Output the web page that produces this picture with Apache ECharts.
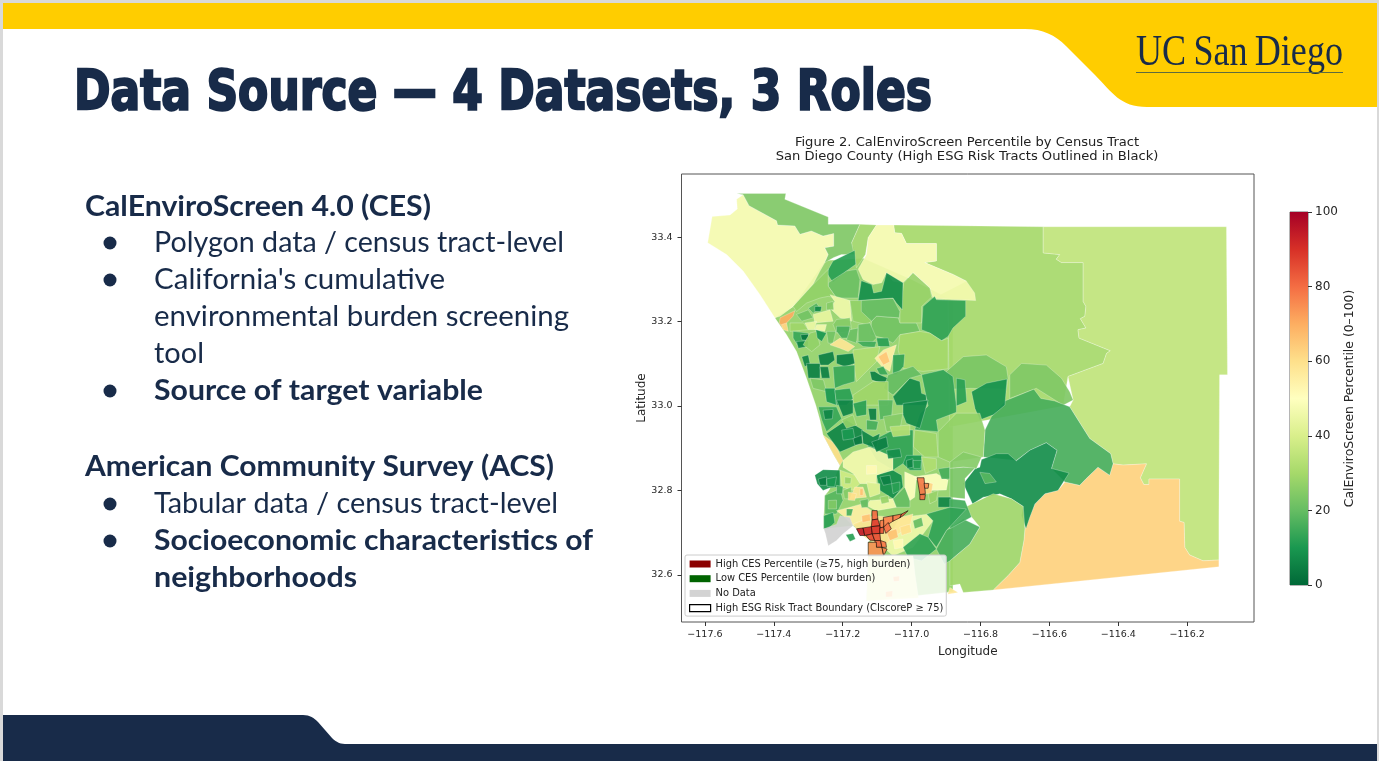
<!DOCTYPE html>
<html>
<head>
<meta charset="utf-8">
<title>Data Source</title>
<script src="https://cdn.jsdelivr.net/npm/echarts@6/dist/echarts.min.js"></script>
<style>
html,body{margin:0;padding:0;background:#d9d9d9;overflow:hidden}
#main{width:1379px;height:761px;filter:blur(0.4px)}
</style>
</head>
<body>
<div id="main"></div>
<script>
var lonTicks = [-117.6,-117.4,-117.2,-117.0,-116.8,-116.6,-116.4,-116.2];
var latTicks = [32.6,32.8,33.0,33.2,33.4];
var cmapStops = ['#006837','#1a9850','#66bd63','#a6d96a','#d9ef8b','#ffffbf','#fee08b','#fdae61','#f46d43','#d73027','#a50026'];
var legendNames = ['High CES Percentile (≥75, high burden)','Low CES Percentile (low burden)','No Data','High ESG Risk Tract Boundary (CIscoreP ≥ 75)'];
var legendColors = ['#8b0000','#006400','#d3d3d3','#ffffff'];

// rings are flat lon,lat lists, one ring per line, painted in order
var largeRings = [
 [-117.397,33.209,-117.363,33.169,-117.334,33.129,-117.305,33.066,-117.278,33.002,-117.266,32.967,-117.257,32.931,-117.228,32.887,-117.208,32.859,-117.240,32.800,-117.252,32.788,-117.255,32.740,-117.255,32.709,-117.170,32.716,-117.160,32.709,-117.150,32.697,-117.121,32.682,-117.126,32.677,-117.126,32.645,-117.131,32.538,-116.880,32.560,-116.880,33.250,-117.000,33.300,-117.140,33.350,-117.250,33.345,-117.344,33.236],
 [-117.052,33.429,-116.618,33.425,-116.618,33.363,-116.570,33.359,-116.580,33.348,-116.565,33.340,-116.502,33.340,-116.502,33.248,-116.494,33.236,-116.497,33.213,-116.510,33.207,-116.494,33.185,-116.517,33.181,-116.514,33.161,-116.423,33.131,-116.434,33.125,-116.444,33.101,-116.546,33.070,-116.560,33.000,-116.890,32.950,-116.894,33.250,-116.938,33.255,-116.841,33.296,-116.880,33.312,-116.962,33.340,-116.928,33.344,-116.928,33.385,-117.015,33.385,-117.029,33.409,-117.049,33.411],
 [-116.618,33.425,-116.086,33.425,-116.083,33.074,-116.106,33.074,-116.108,32.728,-116.108,32.635,-116.154,32.633,-116.193,32.647,-116.207,32.665,-116.209,32.724,-116.222,32.727,-116.222,32.827,-116.311,32.827,-116.311,32.814,-116.326,32.814,-116.336,32.830,-116.318,32.863,-116.386,32.860,-116.415,32.863,-116.422,32.887,-116.483,32.923,-116.517,32.967,-116.541,32.998,-116.531,33.014,-116.546,33.070,-116.444,33.101,-116.434,33.125,-116.423,33.131,-116.514,33.161,-116.517,33.181,-116.494,33.185,-116.510,33.207,-116.497,33.213,-116.494,33.236,-116.502,33.248,-116.502,33.340,-116.565,33.340,-116.580,33.348,-116.570,33.359,-116.618,33.363],
 [-116.763,32.564,-116.108,32.619,-116.108,32.635,-116.154,32.633,-116.193,32.647,-116.207,32.665,-116.209,32.724,-116.222,32.727,-116.222,32.827,-116.311,32.827,-116.311,32.814,-116.326,32.814,-116.336,32.830,-116.318,32.863,-116.386,32.860,-116.415,32.863,-116.425,32.836,-116.459,32.855,-116.493,32.828,-116.512,32.812,-116.555,32.820,-116.575,32.800,-116.613,32.792,-116.642,32.768,-116.671,32.709,-116.674,32.681,-116.686,32.629,-116.720,32.598],
 [-117.592,33.387,-117.579,33.449,-117.527,33.453,-117.506,33.467,-117.508,33.490,-117.489,33.501,-117.472,33.475,-117.392,33.439,-117.389,33.429,-117.339,33.427,-117.324,33.407,-117.291,33.415,-117.257,33.403,-117.226,33.409,-117.226,33.379,-117.252,33.375,-117.242,33.359,-117.252,33.340,-117.266,33.320,-117.286,33.288,-117.344,33.236,-117.382,33.213,-117.397,33.209,-117.440,33.264,-117.489,33.320,-117.537,33.359],
 [-117.508,33.504,-117.365,33.504,-117.368,33.490,-117.242,33.448,-117.242,33.431,-117.150,33.431,-117.174,33.387,-117.160,33.359,-117.204,33.359,-117.226,33.352,-117.252,33.340,-117.242,33.359,-117.252,33.375,-117.226,33.379,-117.226,33.409,-117.257,33.403,-117.291,33.415,-117.324,33.407,-117.339,33.427,-117.389,33.429,-117.392,33.439,-117.472,33.475,-117.489,33.501],
 [-117.150,33.431,-117.102,33.429,-117.126,33.399,-117.134,33.359,-117.160,33.328,-117.174,33.387],
 [-117.102,33.429,-117.052,33.429,-117.049,33.411,-117.029,33.409,-117.015,33.385,-116.928,33.385,-116.928,33.344,-116.962,33.340,-116.880,33.312,-116.841,33.296,-116.817,33.268,-116.814,33.250,-116.938,33.255,-116.947,33.280,-116.996,33.316,-117.025,33.292,-117.054,33.296,-117.073,33.316,-117.087,33.292,-117.112,33.288,-117.141,33.300,-117.155,33.324,-117.131,33.359,-117.126,33.399],
 [-116.715,33.074,-116.681,33.101,-116.609,33.097,-116.565,33.066,-116.541,33.034,-116.531,33.014,-116.560,33.002,-116.638,33.042,-116.715,33.018],
 [-116.899,33.082,-116.850,33.117,-116.783,33.121,-116.725,33.093,-116.720,33.066,-116.725,33.040,-116.831,33.042,-116.880,33.040],
 [-116.787,32.943,-116.768,32.975,-116.729,33.012,-116.645,33.040,-116.625,33.018,-116.585,33.012,-116.541,32.998,-116.517,32.967,-116.483,32.923,-116.422,32.887,-116.415,32.863,-116.425,32.836,-116.459,32.855,-116.493,32.828,-116.512,32.812,-116.555,32.820,-116.594,32.852,-116.578,32.895,-116.609,32.913,-116.657,32.895,-116.696,32.871,-116.792,32.879],
 [-116.609,32.913,-116.578,32.895,-116.594,32.852,-116.543,32.841,-116.575,32.800,-116.613,32.792,-116.642,32.768,-116.657,32.736,-116.668,32.709,-116.681,32.740,-116.676,32.762,-116.710,32.780,-116.744,32.792,-116.763,32.788,-116.792,32.784,-116.823,32.768,-116.850,32.816,-116.816,32.851,-116.802,32.855,-116.797,32.873,-116.754,32.887,-116.720,32.887,-116.696,32.870,-116.657,32.895],
 [-116.845,32.760,-116.763,32.792,-116.710,32.780,-116.676,32.762,-116.671,32.709,-116.674,32.681,-116.686,32.629,-116.720,32.598,-116.763,32.564,-116.850,32.558,-116.860,32.578,-116.889,32.574,-116.889,32.633,-116.831,32.673,-116.802,32.713,-116.826,32.737],
 [-116.928,32.661,-116.899,32.705,-116.850,32.732,-116.802,32.713,-116.831,32.673,-116.889,32.633,-116.905,32.625],
 [-117.165,33.369,-117.162,33.336,-117.189,33.320,-117.228,33.292,-117.247,33.316,-117.228,33.344],
 [-117.242,33.292,-117.189,33.320,-117.160,33.324,-117.150,33.300,-117.155,33.256,-117.218,33.256,-117.242,33.284]
];
var largeValues = [27,30,35,63,47,24,29,47,24,23,16,8,29,16,12,21];

var northRings = [
 [-117.344,33.236,-117.286,33.288,-117.242,33.324,-117.242,33.284,-117.218,33.256,-117.242,33.260,-117.266,33.256,-117.305,33.244,-117.334,33.224],
 [-117.237,33.264,-117.179,33.250,-117.174,33.201,-117.208,33.209,-117.237,33.232,-117.223,33.248],
 [-117.179,33.250,-117.146,33.250,-117.116,33.201,-117.131,33.193,-117.170,33.201],
 [-117.116,33.201,-117.102,33.213,-117.039,33.209,-117.034,33.197,-116.986,33.197,-116.976,33.177,-117.034,33.169,-117.054,33.149,-117.082,33.161,-117.121,33.169],
 [-117.034,33.224,-117.023,33.292,-116.996,33.316,-116.947,33.280,-116.942,33.258,-116.971,33.236,-116.971,33.197,-117.034,33.197],
 [-117.146,33.297,-117.116,33.288,-117.110,33.268,-117.087,33.272,-117.073,33.316,-117.025,33.292,-117.027,33.228,-117.044,33.244,-117.054,33.256,-117.155,33.250],
 [-117.146,33.250,-117.054,33.255,-117.034,33.224,-117.036,33.209,-117.102,33.213,-117.116,33.201,-117.146,33.224],
 [-116.967,33.236,-116.933,33.260,-116.928,33.252,-116.843,33.250,-116.843,33.213,-116.880,33.185,-116.894,33.165,-116.913,33.155,-116.947,33.173,-116.971,33.181],
 [-117.034,33.169,-116.976,33.177,-116.947,33.173,-116.913,33.155,-116.894,33.161,-116.894,33.088,-116.967,33.082,-117.025,33.089,-117.039,33.133],
 [-117.382,33.209,-117.339,33.226,-117.344,33.213,-117.363,33.197,-117.373,33.183,-117.384,33.197],
 [-117.378,33.193,-117.363,33.197,-117.358,33.177,-117.373,33.181],
 [-117.334,33.217,-117.300,33.228,-117.286,33.209,-117.319,33.201],
 [-117.300,33.232,-117.276,33.244,-117.266,33.232,-117.286,33.220],
 [-117.281,33.236,-117.261,33.236,-117.264,33.224,-117.281,33.224],
 [-117.247,33.244,-117.228,33.248,-117.226,33.228,-117.247,33.228],
 [-117.286,33.217,-117.237,33.228,-117.228,33.201,-117.281,33.197],
 [-117.353,33.197,-117.314,33.197,-117.300,33.181,-117.353,33.177],
 [-117.310,33.197,-117.276,33.201,-117.281,33.181,-117.300,33.181],
 [-117.276,33.193,-117.247,33.193,-117.252,33.177,-117.281,33.181],
 [-117.344,33.177,-117.300,33.173,-117.300,33.145,-117.329,33.141,-117.344,33.161],
 [-117.322,33.169,-117.299,33.170,-117.299,33.155,-117.319,33.157],
 [-117.334,33.153,-117.300,33.155,-117.300,33.141,-117.329,33.137],
 [-117.295,33.173,-117.276,33.177,-117.266,33.145,-117.290,33.129,-117.315,33.145],
 [-117.278,33.181,-117.247,33.173,-117.261,33.153,-117.274,33.161],
 [-117.247,33.177,-117.220,33.177,-117.228,33.149,-117.242,33.149],
 [-117.218,33.205,-117.179,33.209,-117.174,33.177,-117.218,33.173,-117.228,33.193],
 [-117.218,33.189,-117.179,33.189,-117.184,33.161,-117.203,33.161,-117.218,33.177],
 [-117.179,33.181,-117.155,33.185,-117.160,33.149,-117.189,33.157],
 [-117.155,33.193,-117.121,33.197,-117.102,33.161,-117.121,33.145,-117.155,33.153],
 [-117.237,33.145,-117.208,33.161,-117.189,33.153,-117.165,33.141,-117.184,33.129,-117.208,33.137],
 [-117.102,33.161,-117.068,33.161,-117.063,33.141,-117.097,33.141],
 [-117.160,33.153,-117.102,33.153,-117.107,33.139,-117.141,33.141],
 [-117.170,33.133,-117.092,33.141,-117.102,33.105,-117.131,33.082,-117.160,33.058,-117.170,33.105],
 [-117.107,33.113,-117.082,33.133,-117.044,33.145,-117.054,33.117,-117.063,33.082,-117.087,33.094],
 [-117.097,33.117,-117.073,33.129,-117.063,33.105,-117.082,33.097],
 [-117.054,33.121,-117.020,33.123,-117.023,33.094,-117.044,33.074,-117.055,33.074],
 [-117.102,33.089,-117.082,33.094,-117.068,33.074,-117.092,33.074],
 [-117.121,33.082,-117.107,33.082,-117.092,33.074,-117.068,33.066,-117.078,33.054,-117.102,33.058,-117.116,33.062],
 [-117.068,33.074,-116.996,33.094,-116.971,33.074,-117.005,33.066,-117.054,33.026,-117.082,33.042]
];
var northValues = [27,46,27,22,28,8,20,13,30,70,62,22,18,7,25,44,29,45,47,14,3,6,27,10,22,25,16,21,21,58,12,15,32,55,65,13,14,5,20];

var midRings = [
 [-117.271,33.121,-117.228,33.129,-117.223,33.109,-117.242,33.097,-117.266,33.097],
 [-117.218,33.121,-117.170,33.125,-117.165,33.101,-117.194,33.093,-117.218,33.101],
 [-117.319,33.117,-117.300,33.121,-117.295,33.101,-117.310,33.093],
 [-117.305,33.101,-117.266,33.101,-117.266,33.066,-117.300,33.066],
 [-117.266,33.093,-117.242,33.093,-117.237,33.066,-117.261,33.066],
 [-117.228,33.093,-117.165,33.097,-117.165,33.058,-117.199,33.050,-117.223,33.042],
 [-117.295,33.066,-117.256,33.062,-117.247,33.034,-117.286,33.042],
 [-117.252,33.042,-117.223,33.042,-117.218,33.002,-117.247,33.010],
 [-117.223,33.038,-117.179,33.042,-117.170,33.018,-117.189,33.002,-117.218,33.002],
 [-117.170,33.026,-117.112,33.058,-117.068,33.058,-117.068,33.002,-117.170,33.002],
 [-117.054,33.022,-117.005,33.066,-116.976,33.058,-116.971,33.030,-116.957,33.026,-116.957,33.002,-117.044,33.002],
 [-116.971,33.074,-116.908,33.086,-116.880,33.070,-116.870,33.002,-116.870,32.985,-116.928,32.967,-116.923,32.939,-116.991,32.944,-116.976,32.982,-116.952,33.000],
 [-117.025,33.006,-116.952,33.014,-116.976,32.947,-117.015,32.959,-117.025,32.979],
 [-116.826,33.034,-116.783,33.054,-116.723,33.064,-116.729,33.002,-116.763,32.979,-116.802,32.967,-116.816,32.994],
 [-116.870,33.066,-116.845,33.062,-116.840,33.010,-116.870,33.000],
 [-116.923,32.939,-116.870,32.983,-116.802,32.983,-116.787,32.943,-116.792,32.879,-116.889,32.867,-116.923,32.879],
 [-116.991,32.943,-116.928,32.935,-116.923,32.879,-116.962,32.879,-116.995,32.903],
 [-117.131,32.911,-117.054,32.943,-116.996,32.943,-116.996,32.879,-117.054,32.848,-117.102,32.871],
 [-117.102,32.836,-117.063,32.852,-117.029,32.836,-117.025,32.808,-117.054,32.780,-117.092,32.800],
 [-117.199,32.871,-117.170,32.891,-117.121,32.903,-117.054,32.879,-117.054,32.848,-117.102,32.836,-117.102,32.816,-117.150,32.816,-117.170,32.840,-117.199,32.855],
 [-117.257,32.931,-117.223,32.911,-117.199,32.871,-117.208,32.859,-117.228,32.887],
 [-117.281,32.836,-117.257,32.849,-117.208,32.848,-117.208,32.808,-117.237,32.806,-117.257,32.800,-117.274,32.816],
 [-117.271,32.998,-117.218,32.998,-117.203,32.970,-117.247,32.939,-117.261,32.967],
 [-117.247,32.935,-117.189,32.967,-117.141,32.943,-117.150,32.911,-117.208,32.891],
 [-117.218,33.014,-117.170,33.014,-117.170,32.983,-117.199,32.975],
 [-117.170,33.006,-117.131,33.014,-117.131,32.979,-117.160,32.975],
 [-117.126,32.994,-117.102,32.994,-117.102,32.967,-117.121,32.967],
 [-117.097,33.014,-117.054,33.014,-117.058,32.975,-117.092,32.967],
 [-117.082,32.975,-117.025,32.983,-117.034,32.943,-117.073,32.939],
 [-117.063,32.951,-117.005,32.955,-117.005,32.931,-117.054,32.927],
 [-117.145,32.943,-117.112,32.927,-117.092,32.935,-117.102,32.899,-117.141,32.911],
 [-117.116,32.915,-117.073,32.927,-117.068,32.903,-117.102,32.891],
 [-117.203,32.967,-117.170,32.979,-117.160,32.955,-117.189,32.947],
 [-117.015,32.883,-116.971,32.883,-116.971,32.848,-117.005,32.848,-117.025,32.863],
 [-116.971,32.879,-116.928,32.875,-116.928,32.851,-116.960,32.840],
 [-116.996,32.832,-116.928,32.840,-116.894,32.824,-116.899,32.801,-116.947,32.800],
 [-116.957,32.820,-116.938,32.816,-116.943,32.792,-116.962,32.792],
 [-116.952,32.792,-116.923,32.800,-116.928,32.776,-116.947,32.768],
 [-116.923,32.784,-116.884,32.784,-116.884,32.760,-116.923,32.760],
 [-116.923,32.851,-116.889,32.855,-116.889,32.827,-116.913,32.827],
 [-116.889,32.867,-116.850,32.891,-116.797,32.879,-116.812,32.851,-116.850,32.855,-116.889,32.852],
 [-116.889,32.852,-116.850,32.855,-116.816,32.853,-116.845,32.828,-116.845,32.780,-116.889,32.784],
 [-116.802,32.843,-116.773,32.840,-116.754,32.820,-116.787,32.816],
 [-116.889,32.780,-116.845,32.776,-116.826,32.737,-116.889,32.709]
];
var midValues = [5,5,6,5,5,14,24,10,12,29,7,13,7,9,12,27,29,13,8,47,60,8,14,6,6,12,5,18,25,33,6,5,27,10,32,50,62,28,6,16,25,23,18,15];

var southRings = [
 [-117.252,32.788,-117.208,32.804,-117.199,32.776,-117.218,32.744,-117.252,32.744],
 [-117.208,32.848,-117.165,32.836,-117.150,32.816,-117.170,32.800,-117.203,32.808],
 [-117.199,32.800,-117.175,32.808,-117.175,32.780,-117.195,32.780],
 [-117.165,32.808,-117.141,32.808,-117.131,32.784,-117.179,32.780],
 [-117.150,32.804,-117.141,32.804,-117.141,32.788,-117.150,32.788],
 [-117.131,32.820,-117.092,32.816,-117.092,32.792,-117.121,32.784],
 [-117.121,32.776,-117.054,32.780,-117.044,32.760,-117.102,32.752,-117.131,32.764],
 [-117.054,32.780,-117.020,32.808,-117.005,32.784,-117.005,32.760,-117.044,32.760],
 [-117.020,32.844,-116.986,32.832,-116.991,32.784,-117.005,32.776,-117.020,32.808],
 [-117.218,32.752,-117.179,32.760,-117.145,32.768,-117.116,32.752,-117.121,32.736,-117.170,32.716,-117.199,32.740],
 [-117.189,32.756,-117.170,32.756,-117.175,32.740,-117.189,32.740],
 [-117.034,32.736,-116.947,32.744,-116.938,32.728,-116.996,32.665,-117.054,32.645,-117.082,32.665],
 [-117.170,32.720,-117.112,32.740,-117.034,32.736,-116.996,32.744,-117.005,32.713,-117.054,32.689,-117.082,32.665,-117.121,32.681,-117.150,32.697],
 [-116.957,32.744,-116.889,32.760,-116.841,32.756,-116.899,32.705,-116.928,32.665,-116.952,32.689,-116.938,32.728],
 [-117.025,32.665,-116.976,32.697,-116.952,32.689,-116.928,32.661,-116.971,32.633,-117.010,32.641],
 [-117.126,32.645,-117.054,32.645,-116.996,32.645,-116.990,32.600,-116.980,32.545,-117.131,32.538],
 [-117.054,32.595,-117.035,32.597,-117.036,32.585,-117.052,32.584],
 [-117.075,32.560,-117.055,32.562,-117.056,32.548,-117.075,32.547],
 [-116.889,32.570,-116.865,32.558,-116.895,32.554],
 [-117.255,32.740,-117.228,32.748,-117.223,32.724,-117.242,32.709,-117.255,32.709],
 [-117.191,32.695,-117.170,32.698,-117.163,32.685,-117.179,32.679]
];
var southValues = [18,38,25,58,66,42,47,20,50,55,16,46,58,13,13,47,70,70,58,12,12];

// the small tracts that sit on top of the ones above
var fineRings = [
 [-117.194,32.832,-117.175,32.830,-117.177,32.816,-117.194,32.816],
 [-117.184,32.796,-117.160,32.792,-117.165,32.776,-117.184,32.777],
 [-117.218,32.812,-117.199,32.809,-117.201,32.792,-117.218,32.792],
 [-117.242,32.776,-117.218,32.777,-117.218,32.756,-117.242,32.756],
 [-117.150,32.776,-117.126,32.780,-117.126,32.760,-117.145,32.759],
 [-117.092,32.784,-117.068,32.788,-117.065,32.772,-117.087,32.768],
 [-116.996,32.728,-116.971,32.736,-116.966,32.716,-116.991,32.709],
 [-117.034,32.713,-117.005,32.720,-117.000,32.701,-117.029,32.693],
 [-117.073,32.701,-117.044,32.709,-117.039,32.689,-117.063,32.681],
 [-117.145,32.740,-117.121,32.744,-117.119,32.728,-117.143,32.724],
 [-117.054,32.681,-117.025,32.685,-117.025,32.665,-117.049,32.661],
 [-117.015,32.871,-116.996,32.875,-116.996,32.855,-117.013,32.852],
 [-116.996,32.871,-116.971,32.871,-116.974,32.852,-116.994,32.852],
 [-117.131,32.859,-117.102,32.859,-117.102,32.840,-117.131,32.838],
 [-117.092,32.832,-117.063,32.836,-117.058,32.816,-117.082,32.812],
 [-117.058,32.816,-117.034,32.820,-117.034,32.800,-117.054,32.792],
 [-117.271,32.827,-117.247,32.832,-117.247,32.812,-117.266,32.812],
 [-117.247,32.827,-117.218,32.832,-117.223,32.809,-117.245,32.809],
 [-117.257,32.990,-117.228,32.992,-117.230,32.970,-117.252,32.968],
 [-117.131,32.967,-117.097,32.963,-117.102,32.943,-117.131,32.944],
 [-117.203,32.943,-117.170,32.947,-117.165,32.923,-117.199,32.919],
 [-117.170,32.923,-117.145,32.931,-117.142,32.911,-117.165,32.907],
 [-117.073,32.895,-117.034,32.899,-117.029,32.879,-117.068,32.875]
];
var fineValues = [28,60,16,24,20,28,20,60,66,66,52,6,12,52,5,12,4,10,6,16,10,4,8];

var noDataRings = [
 [-117.255,32.709,-117.218,32.720,-117.208,32.740,-117.179,32.736,-117.170,32.716,-117.199,32.697,-117.218,32.681,-117.242,32.669,-117.250,32.697]
];

var riskRings = [
 [-116.984,32.830,-116.964,32.830,-116.960,32.792,-116.976,32.790],
 [-116.964,32.817,-116.950,32.816,-116.952,32.805,-116.962,32.805],
 [-116.976,32.790,-116.960,32.790,-116.962,32.778,-116.976,32.778],
 [-117.115,32.752,-117.100,32.752,-117.098,32.732,-117.115,32.730],
 [-117.115,32.730,-117.098,32.732,-117.092,32.716,-117.117,32.714],
 [-117.082,32.736,-117.054,32.740,-117.054,32.727,-117.081,32.713],
 [-117.054,32.740,-117.029,32.744,-117.034,32.735,-117.054,32.727],
 [-117.029,32.744,-117.010,32.752,-117.025,32.740,-117.034,32.735],
 [-117.092,32.728,-117.081,32.730,-117.081,32.713,-117.092,32.711],
 [-117.160,32.709,-117.141,32.711,-117.136,32.693,-117.150,32.693],
 [-117.141,32.711,-117.117,32.714,-117.114,32.697,-117.136,32.693],
 [-117.117,32.714,-117.092,32.716,-117.092,32.698,-117.114,32.697],
 [-117.092,32.711,-117.081,32.713,-117.081,32.698,-117.092,32.698],
 [-117.133,32.693,-117.114,32.697,-117.107,32.681,-117.121,32.682],
 [-117.114,32.697,-117.092,32.698,-117.090,32.681,-117.107,32.681],
 [-117.107,32.681,-117.090,32.681,-117.086,32.665,-117.102,32.665],
 [-117.126,32.677,-117.102,32.677,-117.102,32.665,-117.086,32.665,-117.081,32.645,-117.126,32.645],
 [-117.090,32.681,-117.075,32.677,-117.073,32.665,-117.086,32.665],
 [-117.086,32.665,-117.071,32.661,-117.078,32.650,-117.081,32.645],
 [-117.081,32.713,-117.068,32.724,-117.059,32.709,-117.075,32.698]
];
var riskValues = [78,76,80,80,88,77,78,82,78,95,92,90,84,86,85,82,74,78,76,80];

var tractRings = largeRings.concat(northRings, midRings, southRings, fineRings);
var tractValues = largeValues.concat(northValues, midValues, southValues, fineValues);

// slide text: string, x, middle y, width on the slide, bold
var slideLines = [
 ['CalEnviroScreen 4.0 (CES)',85,207,346,true],
 ['Polygon data / census tract-level',154,243,410,false],
 ["California's cumulative",154,280,291,false],
 ['environmental burden screening',154,317,415,false],
 ['tool',154,354,50,false],
 ['Source of target variable',154,391,329,true],
 ['American Community Survey (ACS)',85,467,469,true],
 ['Tabular data / census tract-level',154,504,404,false],
 ['Socioeconomic characteristics of',154,541,439,true],
 ['neighborhoods',154,578,203,true]
];
var bulletRows = [243,280,391,504,541];

var navy = '#182b49';
var measure = document.createElement('canvas').getContext('2d');

// slide ribbons, the graphic component has no plain path type
echarts.graphic.registerShape('topRibbon',echarts.graphic.extendShape({
	buildPath:function(ctx){
		ctx.moveTo(3,3);ctx.lineTo(1377,3);ctx.lineTo(1377,107);ctx.lineTo(1147,107);
		ctx.bezierCurveTo(1120,107,1112,92,1095,75);
		ctx.lineTo(1066,46);
		ctx.bezierCurveTo(1055,35,1043,29,1025,29);
		ctx.lineTo(3,29);ctx.closePath();
	}
}))
echarts.graphic.registerShape('bottomRibbon',echarts.graphic.extendShape({
	buildPath:function(ctx){
		ctx.moveTo(3,715);ctx.lineTo(303,715);
		ctx.bezierCurveTo(310,715,314,718,318,722);
		ctx.lineTo(332,738);
		ctx.bezierCurveTo(337,743,341,744,347,744);
		ctx.lineTo(1377,744);ctx.lineTo(1377,761);ctx.lineTo(3,761);ctx.closePath();
	}
}))

function fitText(str,x,y,width,font,color,stroke){
	measure.font = font;
	return {
		type:'text',
		x:x,y:y,
		scaleX:width/measure.measureText(str).width,
		style:{text:str,font:font,fill:color,stroke:stroke||null,lineWidth:stroke?2.4:0,verticalAlign:'middle'}
	}
}

function tractColor(pct){
	return echarts.color.lerp(pct/100,cmapStops)
}

function tractSeries(rings,values,stroke,width,fixed){
	var rows = []
	for(var i=0;i<rings.length;i++){
		rows.push([i,values?values[i]:0])
	}
	return {
		type:'custom',
		silent:true,
		xAxisIndex:0,
		yAxisIndex:0,
		data:rows,
		z:3,
		renderItem:function(params,api){
			var ring = rings[api.value(0)]
			var pts = []
			for(var j=0;j<ring.length;j+=2){
				pts.push(api.coord([ring[j],ring[j+1]]))
			}
			return {
				type:'polygon',
				shape:{points:pts},
				style:{fill:fixed||tractColor(api.value(1)),opacity:0.92,stroke:stroke,lineWidth:width}
			}
		}
	}
}

var graphics = [
	{type:'rect',shape:{x:0,y:0,width:1379,height:3},style:{fill:'#d9d9d9'}},
	{type:'rect',shape:{x:0,y:0,width:3,height:761},style:{fill:'#d9d9d9'}},
	{type:'rect',shape:{x:1377,y:0,width:2,height:761},style:{fill:'#d9d9d9'}},
	{type:'topRibbon',shape:{},style:{fill:'#ffcd00'}},
	{type:'bottomRibbon',shape:{},style:{fill:navy}},
	fitText('Data Source — 4 Datasets, 3 Roles',74,94,858,'bold 56px "DejaVu Sans"',navy,navy),
	fitText('UC\u2009San\u2009Diego',1136,53,207,'44px "Liberation Serif"',navy),
	{type:'rect',shape:{x:1136,y:72,width:207,height:1},style:{fill:'#5d6b3f'}}
]
for(var i=0;i<slideLines.length;i++){
	var ln = slideLines[i]
	graphics.push(fitText(ln[0],ln[1],ln[2],ln[3],(ln[4]?'bold ':'')+'29px Lato',navy))
}
for(var b=0;b<bulletRows.length;b++){
	graphics.push({type:'circle',shape:{cx:110,cy:bulletRows[b],r:6.5},style:{fill:navy}})
}

var barStops = []
for(var s=0;s<cmapStops.length;s++){
	barStops.push({offset:s/(cmapStops.length-1),color:cmapStops[s]})
}

var legendData = []
for(var k=0;k<legendNames.length;k++){
	legendData.push({name:legendNames[k],icon:'rect',itemStyle:{color:legendColors[k],borderColor:k==3?'#000':legendColors[k],borderWidth:k==3?1.2:0}})
}

var series = [
	tractSeries(tractRings,tractValues,'rgba(255,255,255,0.55)',0.5),
	tractSeries(noDataRings,null,'rgba(255,255,255,0.4)',0.4,'#d3d3d3'),
	tractSeries(riskRings,riskValues,'rgba(0,0,0,0.75)',0.8),
	{type:'bar',xAxisIndex:1,yAxisIndex:1,data:[100],barWidth:'100%',silent:true,
		itemStyle:{color:new echarts.graphic.LinearGradient(0,1,0,0,barStops)}}
]
for(var n=0;n<legendNames.length;n++){
	series.push({type:'line',name:legendNames[n],xAxisIndex:0,yAxisIndex:0,data:[]})
}

var axisText = {color:'#262626',fontFamily:'DejaVu Sans',fontSize:9.5}
var nameText = {color:'#262626',fontFamily:'DejaVu Sans',fontSize:12}

var option = {
	animation:false,
	backgroundColor:'#fff',
	graphic:{elements:graphics},
	title:{
		text:'Figure 2. CalEnviroScreen Percentile by Census Tract\nSan Diego County (High ESG Risk Tracts Outlined in Black)',
		left:962,top:130,textAlign:'center',
		textStyle:{color:'#222',fontFamily:'DejaVu Sans',fontWeight:'normal',fontSize:13.1,lineHeight:14.5}
	},
	legend:{
		orient:'vertical',left:685,top:555,
		itemWidth:21,itemHeight:7,itemGap:4.7,padding:[4,3,3,4],
		backgroundColor:'rgba(255,255,255,0.82)',borderColor:'#ccc',borderWidth:1,borderRadius:2,
		selectedMode:false,
		textStyle:{color:'#222',fontFamily:'DejaVu Sans',fontSize:9.9},
		data:legendData
	},
	grid:[
		{left:681.5,top:174,width:572.5,height:448,show:true,borderColor:'#555',borderWidth:1,backgroundColor:'#fff'},
		{left:1290,top:212,width:18,height:373,show:true,borderColor:'#444',borderWidth:0.8}
	],
	xAxis:[
		{type:'value',gridIndex:0,min:-117.668,max:-116.006,name:'Longitude',nameLocation:'middle',nameGap:24,
			nameTextStyle:nameText,
			axisLine:{show:false},splitLine:{show:false},
			axisTick:{show:true,length:4,customValues:lonTicks,lineStyle:{color:'#333'}},
			axisLabel:Object.assign({customValues:lonTicks,margin:8,formatter:function(v){return '−'+Math.abs(v).toFixed(1)}},axisText)},
		{type:'category',gridIndex:1,data:[''],show:false}
	],
	yAxis:[
		{type:'value',gridIndex:0,min:32.488,max:33.55,name:'Latitude',nameLocation:'middle',nameGap:34,
			nameTextStyle:nameText,
			axisLine:{show:false},splitLine:{show:false},
			axisTick:{show:true,length:4,customValues:latTicks,lineStyle:{color:'#333'}},
			axisLabel:Object.assign({customValues:latTicks,margin:9,formatter:function(v){return v.toFixed(1)}},axisText)},
		{type:'value',gridIndex:1,position:'right',min:0,max:100,interval:20,name:'CalEnviroScreen Percentile (0–100)',
			nameLocation:'middle',nameRotate:90,nameGap:36,
			nameTextStyle:Object.assign({},nameText,{fontSize:12.4}),
			axisLine:{show:false},splitLine:{show:false},
			axisTick:{show:true,length:4,lineStyle:{color:'#333'}},
			axisLabel:Object.assign({},axisText,{fontSize:12,margin:7})}
	],
	series:series
}

var mychart = echarts.init(document.getElementById('main'))
mychart.setOption(option)
</script>
</body>
</html>
